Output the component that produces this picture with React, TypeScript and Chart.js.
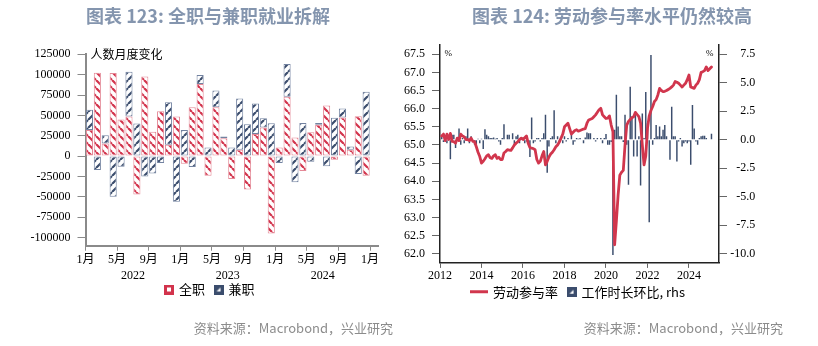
import React, { useEffect, useRef } from 'react';
import { Chart, registerables } from 'chart.js';

Chart.register(...registerables);

// ---------------- Chart 123: full-time vs part-time employment (monthly change, persons) ----------------
const monthNames = ['1月', '2月', '3月', '4月', '5月', '6月', '7月', '8月', '9月', '10月', '11月', '12月'];
const yearLabels123 = ['2022', '2023', '2024'];
const monthTickIdx = [0, 4, 8, 12, 16, 20, 24, 28, 32, 36];
const yTicks123 = [-100000, -75000, -50000, -25000, 0, 25000, 50000, 75000, 100000, 125000];
// Jan 2022 .. Dec 2024
const fullTime = [
  32000, 102500, 15500, 102000, 45000, 48500, -47000, 97600, 30000, 55000, 14000, 48500,
  -9500, 60000, 88500, -24000, 60000, 22000, -28000, 7800, -41000, 27000, 35000, -95000,
  10600, 73000, 23000, -18400, 29400, 38400, 62000, -4500, 47400, 7800, 49000, -24000,
];
const partTime = [
  25000, -17000, 10000, -50000, -13000, 55000, 40000, -25000, -21500, -8500, 52000, -56000,
  32000, -13500, 11000, 10600, 20500, 2000, 10600, 63000, 39000, 37500, 11500, 40400,
  -8500, 40000, -32000, 40800, -7000, 2400, -12600, 47000, 11000, 4000, -22000, 79000,
];

// ---------------- Chart 124: participation rate (%) and hours worked m/m (%, rhs) ----------------
const startYear124 = 2012;
const xTicks124 = [2012, 2014, 2016, 2018, 2020, 2022, 2024];
const yTicksLeft124 = [62.0, 62.5, 63.0, 63.5, 64.0, 64.5, 65.0, 65.5, 66.0, 66.5, 67.0, 67.5];
const yTicksRight124 = [-10.0, -7.5, -5.0, -2.5, 0.0, 2.5, 5.0, 7.5];
// Jan 2012 .. Jan 2025
const participation = [
  65.25, 65.3, 65.12, 65.3, 65.15, 65.32, 65.1, 65.09, 65.05, 65.19, 65.12, 65.3,
  65.25, 65.22, 65.15, 65.15, 65.12, 65.19, 65.1, 65.09, 64.95, 64.8, 64.68, 64.5,
  64.55, 64.62, 64.7, 64.73, 64.65, 64.63, 64.7, 64.73, 64.63, 64.66, 64.6, 64.6,
  64.78, 64.82, 64.87, 64.86, 64.85, 64.92, 65.0, 65.05, 65.09, 65.15, 65.19, 65.15,
  65.2, 65.25, 65.05, 64.93, 64.91, 64.9, 64.87, 64.6, 64.5, 64.55, 64.7, 64.82,
  64.45, 64.55, 64.67, 64.75, 64.8, 64.87, 64.95, 65.0, 65.08, 65.19, 65.3, 65.5,
  65.55, 65.6, 65.45, 65.3, 65.35, 65.4, 65.42, 65.38, 65.4, 65.42, 65.44, 65.45,
  65.6, 65.69, 65.71, 65.73, 65.78, 65.83, 65.9, 65.97, 66.01, 65.83, 65.78, 65.73,
  65.74, 65.8, 65.55, 65.37, 62.25, 62.9, 63.62, 64.17, 64.25, 64.3, 65.0, 65.55,
  65.65, 65.7, 65.75, 65.78, 65.9, 65.84, 65.78, 65.6, 65.0, 64.45, 64.7, 65.46,
  65.8, 65.95, 66.06, 66.2, 66.25, 66.38, 66.56, 66.5, 66.47, 66.48, 66.5, 66.53,
  66.56, 66.6, 66.65, 66.75, 66.73, 66.7, 66.65, 66.6, 66.65, 66.7, 66.8, 66.93,
  66.6, 66.58, 66.56, 66.65, 66.7, 66.8, 67.0, 67.02, 67.05, 67.15, 67.05, 67.1, 67.15,
];
const hoursMoM = [
  0.3, -0.2, 0.4, -0.3, 0.2, -1.7, 0.44, 0.44, -0.73, 0.2, 1.0, -0.44,
  0.15, -0.3, 0.3, 1.0, -0.3, 0.3, -0.15, -0.44, -0.44, 0.1, -0.3, 0.1,
  -0.8, 0.93, 0.44, 0.3, 0.15, 0.15, 0.2, 0.1, 0.15, -0.15, -0.44, 0.15,
  1.37, 0.0, 0.44, 0.44, 0.0, 0.58, -0.44, 0.3, 0.44, -0.3, 0.15, 0.2,
  -0.3, -0.15, 0.0, -1.5, 1.95, -0.3, -0.15, 0.15, 0.15, -0.15, 0.15, 0.58,
  2.19, -2.9, -0.58, 0.15, 0.3, 2.6, -0.3, 0.3, -0.15, 0.15, -0.3, 0.3,
  -0.15, 0.15, 0.0, 0.44, -0.44, -0.15, 0.15, 0.1, 0.15, 0.0, -0.3, 0.2,
  0.64, 0.58, 0.58, 0.0, 0.15, -0.15, 0.15, 0.0, 0.15, -0.3, 0.15, 0.5,
  -0.44, -0.44, -0.2, -10.1, 0.87, 3.94, 1.17, 0.3, 0.3, -0.2, 2.19, -0.44,
  -3.94, 4.66, 2.04, -1.46, 2.3, -1.46, 0.3, -4.0, 2.3, 0.15, 4.2, 1.46,
  -7.23, 7.43, -0.44, 0.15, 1.3, 0.3, 1.17, 0.3, 0.87, 1.3, 0.3, 0.0,
  -1.75, 2.9, 0.3, 0.3, -1.9, -0.15, 0.15, -0.58, -0.3, -0.15, -0.3, -0.15,
  -2.19, 3.06, 1.0, -0.15, -0.44, 0.15, 0.3, 0.35, 0.35, 0.15, 0.0, 0.0, 0.52,
];

// ---------------- styling ----------------
const FONT_NUM = "'Liberation Serif', 'Noto Sans CJK SC', serif";
const FONT_CJK = "'Noto Sans CJK SC', 'Noto Sans', sans-serif";
const RED = '#d2334c';
const RED_EDGE = '#e48896';
const NAVY = '#3b4d6d';
const NAVY_EDGE = '#7282a0';
const LINE_RED = '#d1364d';

function makeHatch(ctx: CanvasRenderingContext2D, color: string, dir: 'back' | 'fwd') {
  const c = document.createElement('canvas');
  c.width = 8;
  c.height = 8;
  const g = c.getContext('2d')!;
  g.fillStyle = '#ffffff';
  g.fillRect(0, 0, 8, 8);
  g.strokeStyle = color;
  g.lineWidth = 2.2;
  g.beginPath();
  for (const o of [-8, 0, 8]) {
    if (dir === 'back') {
      g.moveTo(o, 0);
      g.lineTo(o + 8, 8);
    } else {
      g.moveTo(o, 8);
      g.lineTo(o + 8, 0);
    }
  }
  g.stroke();
  return ctx.createPattern(c, 'repeat') as CanvasPattern;
}

function boxIcon(kind: 'red' | 'navy') {
  const c = document.createElement('canvas');
  c.width = 10;
  c.height = 10;
  const g = c.getContext('2d')!;
  if (kind === 'red') {
    g.fillStyle = RED;
    g.fillRect(0, 0, 10, 10);
    g.fillStyle = '#fff';
    g.fillRect(3, 3, 4, 4);
  } else {
    g.fillStyle = NAVY;
    g.fillRect(0, 0, 10, 10);
    g.fillStyle = '#fff';
    g.beginPath();
    g.moveTo(3, 7);
    g.lineTo(7, 7);
    g.lineTo(7, 3);
    g.closePath();
    g.fill();
  }
  return c;
}

function lineIcon() {
  const c = document.createElement('canvas');
  c.width = 26;
  c.height = 13;
  const g = c.getContext('2d')!;
  g.strokeStyle = LINE_RED;
  g.lineWidth = 3;
  g.beginPath();
  g.moveTo(0, 6.5);
  g.lineTo(18, 6.5);
  g.stroke();
  return c;
}

// place legend at an exact spot
const legendPlace = {
  id: 'legendPlace',
  afterLayout(chart: any, _args: any, opts: any) {
    const lg = chart.legend;
    if (!lg || opts.left == null) return;
    const h = lg.height;
    lg.left = opts.left;
    lg.right = opts.left + 400;
    lg.top = opts.top;
    lg.bottom = opts.top + h;
  },
};

// small in-plot annotations (unit labels)
const annotate = {
  id: 'annotate',
  afterDraw(chart: any, _args: any, opts: any) {
    const ctx = chart.ctx;
    const a = chart.chartArea;
    ctx.save();
    for (const t of opts.items || []) {
      ctx.font = t.font;
      ctx.fillStyle = t.color || '#000';
      ctx.textAlign = t.align || 'left';
      ctx.textBaseline = 'middle';
      const x = t.from === 'right' ? a.right + t.dx : a.left + t.dx;
      ctx.fillText(t.text, x, a.top + t.dy);
    }
    ctx.restore();
  },
};

function numFont(size = 12) {
  return { family: FONT_NUM, size };
}

const LEFT_W = 395;
const RIGHT_X = 395;
const RIGHT_W = 818 - RIGHT_X;

export default function App() {
  const leftRef = useRef<HTMLCanvasElement | null>(null);
  const rightRef = useRef<HTMLCanvasElement | null>(null);

  useEffect(() => {
    const lc = leftRef.current!;
    const rc = rightRef.current!;
    const lctx = lc.getContext('2d')!;

    const redHatch = makeHatch(lctx, RED, 'back');
    const navyHatch = makeHatch(lctx, NAVY, 'fwd');
    const redBox = boxIcon('red');
    const navyBox = boxIcon('navy');
    const redLine = lineIcon();

    const gridL = '#8a8a8a';

    const left = new Chart(lc, {
      type: 'bar',
      data: {
        datasets: [
          {
            label: '全职',
            data: fullTime.map((v, i) => ({ x: i + 0.5, y: v })),
            backgroundColor: redHatch,
            borderColor: RED_EDGE,
            borderWidth: 1,
            borderSkipped: false,
            barPercentage: 0.9,
            categoryPercentage: 1,
          } as any,
          {
            label: '兼职',
            data: partTime.map((v, i) => ({ x: i + 0.5, y: v })),
            backgroundColor: navyHatch,
            borderColor: NAVY_EDGE,
            borderWidth: 1,
            borderSkipped: false,
            barPercentage: 0.9,
            categoryPercentage: 1,
          } as any,
        ],
      },
      options: {
        responsive: false,
        animation: false,
        events: [],
        layout: { padding: { left: 0, right: LEFT_W - 378, top: 54.3, bottom: 29.5 } },
        scales: {
          x: {
            type: 'linear',
            stacked: true,
            min: 0,
            max: 37,
            offset: false,
            grid: { display: true, drawOnChartArea: false, offset: false, tickLength: 5, color: gridL, lineWidth: 1 },
            border: { display: true, color: gridL, width: 2 },
            ticks: {
              padding: 2,
              autoSkip: false,
              maxRotation: 0,
              font: numFont(12),
              color: '#000',
              callback: (v: any) => monthNames[Number(v) % 12],
            },
            afterBuildTicks: (ax: any) => {
              ax.ticks = monthTickIdx.map((value) => ({ value }));
            },
            afterFit: (ax: any) => {
              ax.height = 21.4;
            },
          },
          x2: {
            type: 'linear',
            position: 'bottom',
            min: 0,
            max: 37,
            offset: false,
            grid: { display: false, drawTicks: false, offset: false },
            border: { display: false },
            ticks: {
              padding: 2,
              autoSkip: false,
              maxRotation: 0,
              font: numFont(12),
              color: '#000',
              callback: (v: any) => yearLabels123[Math.round((Number(v) - 6) / 12)],
            },
            afterBuildTicks: (ax: any) => {
              ax.ticks = yearLabels123.map((_, i) => ({ value: 6 + 12 * i }));
            },
            afterFit: (ax: any) => {
              ax.height = 16.4;
            },
          },
          y: {
            stacked: true,
            min: -110000,
            max: 125000,
            grid: { drawOnChartArea: false, tickLength: 8, color: gridL },
            border: { color: gridL, width: 2 },
            ticks: { padding: 7, font: numFont(12), color: '#000', callback: (v: any) => String(v) },
            afterBuildTicks: (ax: any) => {
              ax.ticks = yTicks123.map((value) => ({ value }));
            },
            afterFit: (ax: any) => {
              ax.width = 85.5;
            },
          },
        } as any,
        plugins: {
          tooltip: { enabled: false },
          legend: {
            position: 'bottom',
            align: 'start',
            labels: {
              usePointStyle: true,
              boxWidth: 7,
              padding: 10,
              color: '#000',
              font: { family: FONT_CJK, size: 13 },
              generateLabels: () => [
                { text: '全职', pointStyle: redBox, fillStyle: RED, strokeStyle: RED, lineWidth: 0, hidden: false, datasetIndex: 0 },
                { text: '兼职', pointStyle: navyBox, fillStyle: NAVY, strokeStyle: NAVY, lineWidth: 0, hidden: false, datasetIndex: 1 },
              ] as any,
            },
          },
          legendPlace: { left: 155.5, top: 273 },
          annotate: {
            items: [{ text: '人数月度变化', font: `12px ${FONT_CJK}`, dx: 5, dy: 0, align: 'left' }],
          },
        } as any,
      },
      plugins: [legendPlace, annotate],
    });

    const gridR = '#666666';
    const axisR = '#222222';
    const rOff = 440 - RIGHT_X; // plot-left inside the right canvas

    const right = new Chart(rc, {
      type: 'bar',
      data: {
        datasets: [
          {
            type: 'line',
            label: '劳动参与率',
            data: participation.map((v, j) => ({ x: startYear124 + (j + 1) / 12, y: v })),
            borderColor: LINE_RED,
            backgroundColor: LINE_RED,
            borderWidth: 2.8,
            pointRadius: 0,
            borderJoinStyle: 'round',
            borderCapStyle: 'round',
            yAxisID: 'y',
            order: 0,
          } as any,
          {
            type: 'bar',
            label: '工作时长环比, rhs',
            data: hoursMoM.map((v, j) => ({ x: startYear124 + (j + 1) / 12, y: v })),
            backgroundColor: NAVY,
            borderWidth: 0,
            yAxisID: 'y2',
            order: 1,
            barPercentage: 0.85,
            categoryPercentage: 1,
          } as any,
        ],
      },
      options: {
        responsive: false,
        animation: false,
        events: [],
        layout: { padding: { left: 0, right: RIGHT_W - (719 - RIGHT_X) - 36.3, top: 45.2, bottom: 29.7 } },
        scales: {
          x: {
            type: 'linear',
            min: 2012,
            max: 2025.446,
            offset: false,
            grid: { display: true, drawOnChartArea: false, offset: false, tickLength: 5, color: gridR },
            border: { color: axisR, width: 1.5 },
            ticks: { padding: 1, autoSkip: false, maxRotation: 0, font: numFont(12), color: '#000', callback: (v: any) => String(v) },
            afterBuildTicks: (ax: any) => {
              ax.ticks = xTicks124.map((value) => ({ value }));
            },
            afterFit: (ax: any) => {
              ax.height = 20.4;
            },
          },
          y: {
            position: 'left',
            min: 61.75,
            max: 67.75,
            grid: { drawOnChartArea: false, tickLength: 8, color: gridR },
            border: { color: axisR, width: 1.5 },
            ticks: { padding: 7, font: numFont(12), color: '#000', callback: (v: any) => Number(v).toFixed(1) },
            afterBuildTicks: (ax: any) => {
              ax.ticks = yTicksLeft124.map((value) => ({ value }));
            },
            afterFit: (ax: any) => {
              ax.width = rOff;
            },
          },
          y2: {
            position: 'right',
            min: -10.795,
            max: 8.295,
            grid: { drawOnChartArea: false, tickLength: 8, color: gridR },
            border: { color: axisR, width: 1.5 },
            ticks: { padding: 3, crossAlign: 'far', font: numFont(12), color: '#000', callback: (v: any) => Number(v).toFixed(1) },
            afterBuildTicks: (ax: any) => {
              ax.ticks = yTicksRight124.map((value) => ({ value }));
            },
            afterFit: (ax: any) => {
              ax.width = 36.3;
            },
          },
        } as any,
        plugins: {
          tooltip: { enabled: false },
          legend: {
            position: 'bottom',
            align: 'start',
            labels: {
              usePointStyle: true,
              boxWidth: 7,
              padding: 10,
              color: '#000',
              font: { family: FONT_CJK, size: 13 },
              generateLabels: () => [
                { text: '劳动参与率', pointStyle: redLine, fillStyle: LINE_RED, strokeStyle: LINE_RED, lineWidth: 0, hidden: false, datasetIndex: 0 },
                { text: '工作时长环比, rhs', pointStyle: navyBox, fillStyle: NAVY, strokeStyle: NAVY, lineWidth: 0, hidden: false, datasetIndex: 1 },
              ] as any,
            },
          },
          legendPlace: { left: 470 - RIGHT_X + 9.5 - 10, top: 275.2 },
          annotate: {
            items: [
              { text: '%', font: `9px ${FONT_NUM}`, dx: 8.2, dy: 8.1, align: 'center' },
              { text: '%', font: `9px ${FONT_NUM}`, dx: -9.3, dy: 8.1, align: 'center', from: 'right' },
            ],
          },
        } as any,
      },
      plugins: [legendPlace, annotate],
    });

    return () => {
      left.destroy();
      right.destroy();
    };
  }, []);

  const titleStyle = (center: number): React.CSSProperties => ({
    position: 'absolute',
    left: center - 200,
    width: 400,
    top: 4,
    textAlign: 'center',
    fontFamily: FONT_CJK,
    fontSize: 18,
    fontWeight: 700,
    lineHeight: '22px',
    color: '#8495ae',
    whiteSpace: 'nowrap',
  });
  const sourceStyle = (rightEdge: number): React.CSSProperties => ({
    position: 'absolute',
    right: 818 - rightEdge,
    top: 319,
    fontFamily: FONT_CJK,
    fontSize: 13,
    lineHeight: '18px',
    color: '#8c8c8c',
    whiteSpace: 'nowrap',
  });

  return (
    <div style={{ position: 'absolute', left: 0, top: 0, width: 818, height: 346, background: '#fff', overflow: 'hidden' }}>
      <canvas ref={leftRef} width={LEFT_W} height={346} style={{ position: 'absolute', left: 0, top: 0 }} />
      <canvas ref={rightRef} width={RIGHT_W} height={346} style={{ position: 'absolute', left: RIGHT_X, top: 0 }} />
      <div style={titleStyle(208)}>图表 123: 全职与兼职就业拆解</div>
      <div style={titleStyle(612)}>图表 124: 劳动参与率水平仍然较高</div>
      <div style={sourceStyle(393)}>资料来源：Macrobond，兴业研究</div>
      <div style={sourceStyle(783)}>资料来源：Macrobond，兴业研究</div>
    </div>
  );
}
